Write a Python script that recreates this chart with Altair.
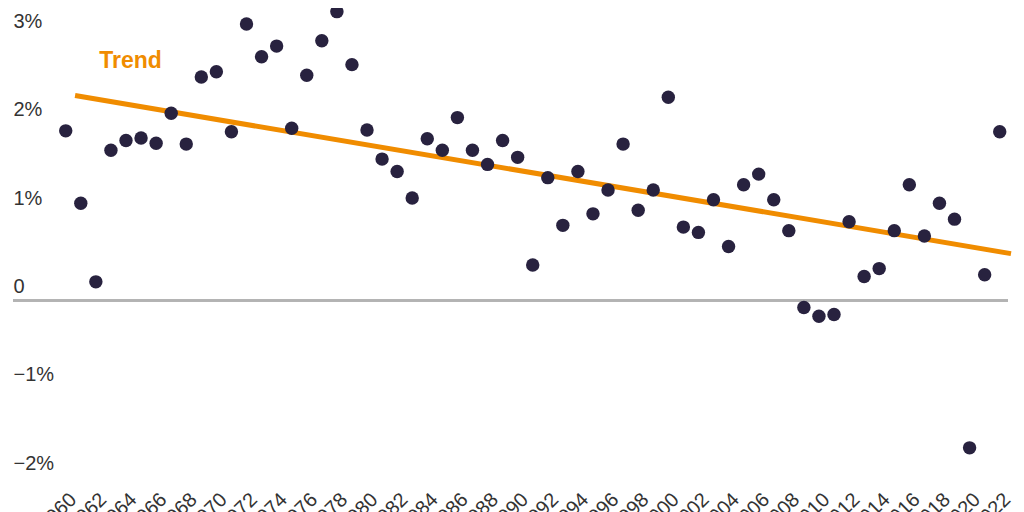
import pandas as pd
import altair as alt

years = list(range(1960, 2023))
growth = [
    1.92, 1.10, 0.21, 1.70, 1.81, 1.84, 1.78, 2.12, 1.77, 2.53,
    2.59, 1.91, 3.13, 2.76, 2.88, 1.95, 2.55, 2.94, 3.27, 2.67,
    1.93, 1.60, 1.46, 1.16, 1.83, 1.70, 2.07, 1.70, 1.54, 1.81,
    1.62, 0.40, 1.39, 0.85, 1.46, 0.98, 1.25, 1.77, 1.02, 1.25,
    2.30, 0.83, 0.77, 1.14, 0.61, 1.31, 1.43, 1.14, 0.79, -0.08,
    -0.18, -0.16, 0.89, 0.27, 0.36, 0.79, 1.31, 0.73, 1.10, 0.92,
    -1.67, 0.29, 1.91,
]

trend_years = [1960.62, 2022.75]
trend_vals = [2.32, 0.53]

label_text = ["Trend"]
label_year = [1964.3]
label_val = [2.71]

y_ticks = [-2, -1, 0, 1, 2, 3]
x_ticks = list(range(1960, 2023, 2))

pts = pd.DataFrame({"year": years, "growth": growth})
trend = pd.DataFrame({"year": trend_years, "growth": trend_vals})
lab = pd.DataFrame({"year": label_year, "growth": label_val, "text": label_text})

x_scale = alt.Scale(domain=[1956.5, 2022.55], nice=False, zero=False)
y_scale = alt.Scale(domain=[-2, 3.3], nice=False, zero=False)

x_axis = alt.Axis(
    values=x_ticks,
    format="d",
    labelAngle=-45,
    labelPadding=12,
    labelFontSize=20,
    labelColor="#333333",
    labelOverlap=False,
    labelBound=False,
    domain=False,
    ticks=False,
    grid=False,
)
y_axis = alt.Axis(
    values=y_ticks,
    labelExpr="datum.value == 0 ? '0' : (datum.value < 0 ? '\u2212' : '') + format(abs(datum.value), 'd') + '%'",
    labelAlign="left",
    labelBaseline="alphabetic",
    labelPadding=0,
    labelOffset=-8,
    tickSize=0,
    labelFontSize=20,
    labelColor="#333333",
    labelOverlap=False,
    domain=False,
    ticks=False,
    grid=False,
)

X = alt.X("year:Q", scale=x_scale, title=None, axis=x_axis)
Y = alt.Y("growth:Q", scale=y_scale, title=None, axis=y_axis)

# only the zero line is drawn, no other gridlines
zero_line = (
    alt.Chart(pts)
    .mark_rule(color="#b3b3b3", strokeWidth=2)
    .encode(y=alt.datum(0, scale=y_scale, axis=y_axis))
)

trend_line = (
    alt.Chart(trend)
    .mark_line(color="#f08c00", strokeWidth=5)
    .encode(x=X, y=Y)
)

dots = (
    alt.Chart(pts)
    .mark_circle(size=180, opacity=1, color="#28223f")
    .encode(x=X, y=Y)
)

trend_label = (
    alt.Chart(lab)
    .mark_text(font="Liberation Sans", fontSize=23, fontWeight="bold", color="#f08c00")
    .encode(x=X, y=Y, text="text:N")
)

chart = (
    alt.layer(zero_line, trend_line, dots, trend_label)
    .properties(
        width=995,
        height=468,
        autosize=alt.AutoSizeParams(type="none"),
        padding={"top": 1, "left": 5, "right": 8, "bottom": 60},
    )
    .configure_view(stroke=None)
    .configure_axis(labelFont="Liberation Sans", labelOverlap=False)
)

chart.save("out.html", embed_options={"renderer": "svg", "actions": False})
